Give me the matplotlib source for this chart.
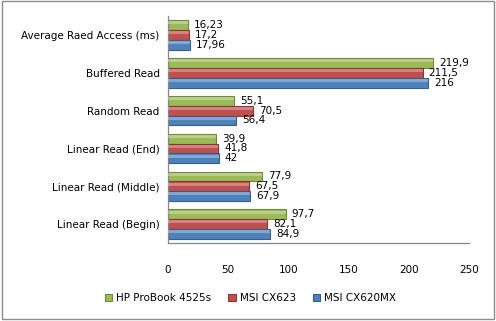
import matplotlib
matplotlib.use("Agg")
import matplotlib.pyplot as plt
from matplotlib.patches import Rectangle
import numpy as np

# данные (сверху вниз)
categories = ["Average Raed Access (ms)", "Buffered Read", "Random Read",
              "Linear Read (End)", "Linear Read (Middle)", "Linear Read (Begin)"]
series_names = ["HP ProBook 4525s", "MSI CX623", "MSI CX620MX"]
hp_probook = [16.23, 219.9, 55.1, 39.9, 77.9, 97.7]
msi_cx623 = [17.2, 211.5, 70.5, 41.8, 67.5, 82.1]
msi_cx620mx = [17.96, 216, 56.4, 42, 67.9, 84.9]
x_ticks = [0, 50, 100, 150, 200, 250]

colors = ["#9BBB59", "#C0504D", "#4F81BD"]
edges = ["#6E8A38", "#8C3533", "#385D8A"]

plt.rcParams["font.family"] = ["DejaVu Sans"]
plt.rcParams["font.size"] = 7.5

fig = plt.figure(figsize=(4.96, 3.21), dpi=100)
ax = fig.add_axes([0.3387, 0.243, 0.607, 0.707])

n = len(categories)
y = np.arange(n)[::-1].astype(float)
h = 0.26
offsets = [h, 0, -h]

for vals, off, c, ec, name in zip([hp_probook, msi_cx623, msi_cx620mx], offsets,
                                  colors, edges, series_names):
    yy = y + off
    ax.barh(yy, vals, height=h, color=c, edgecolor=ec, linewidth=0.8, label=name, zorder=2)
    # блик сверху бара
    ax.barh(yy + h * 0.22, vals, height=h * 0.3, color="white", alpha=0.3,
            linewidth=0, zorder=3)
    for v, yv in zip(vals, yy):
        ax.text(v + 5, yv, f"{v:g}".replace(".", ","), va="center", ha="left",
                fontsize=7.5, color="black", zorder=4)

ax.set_xlim(0, 250)
ax.set_ylim(-0.5, n - 0.5)
ax.set_xticks(x_ticks)
ax.set_yticks(y)
ax.set_yticklabels(categories)
ax.tick_params(axis="both", length=0)
ax.tick_params(axis="x", pad=16)
ax.tick_params(axis="y", pad=6)
for s in ["top", "right"]:
    ax.spines[s].set_visible(False)
for s in ["left", "bottom"]:
    ax.spines[s].set_color("#868686")
    ax.spines[s].set_linewidth(0.9)

handles, labels = ax.get_legend_handles_labels()
fig.legend(handles[:3], labels[:3], loc="center", bbox_to_anchor=(0.505, 0.072),
           ncol=3, frameon=False, handlelength=0.7, handleheight=0.7,
           handletextpad=0.4, columnspacing=1.6, fontsize=7.5)

fig.patches.append(Rectangle((0.004, 0.006), 0.992, 0.99, transform=fig.transFigure,
                             fill=False, edgecolor="#8c8c8c", linewidth=1))

fig.savefig("out.png", dpi=100)
